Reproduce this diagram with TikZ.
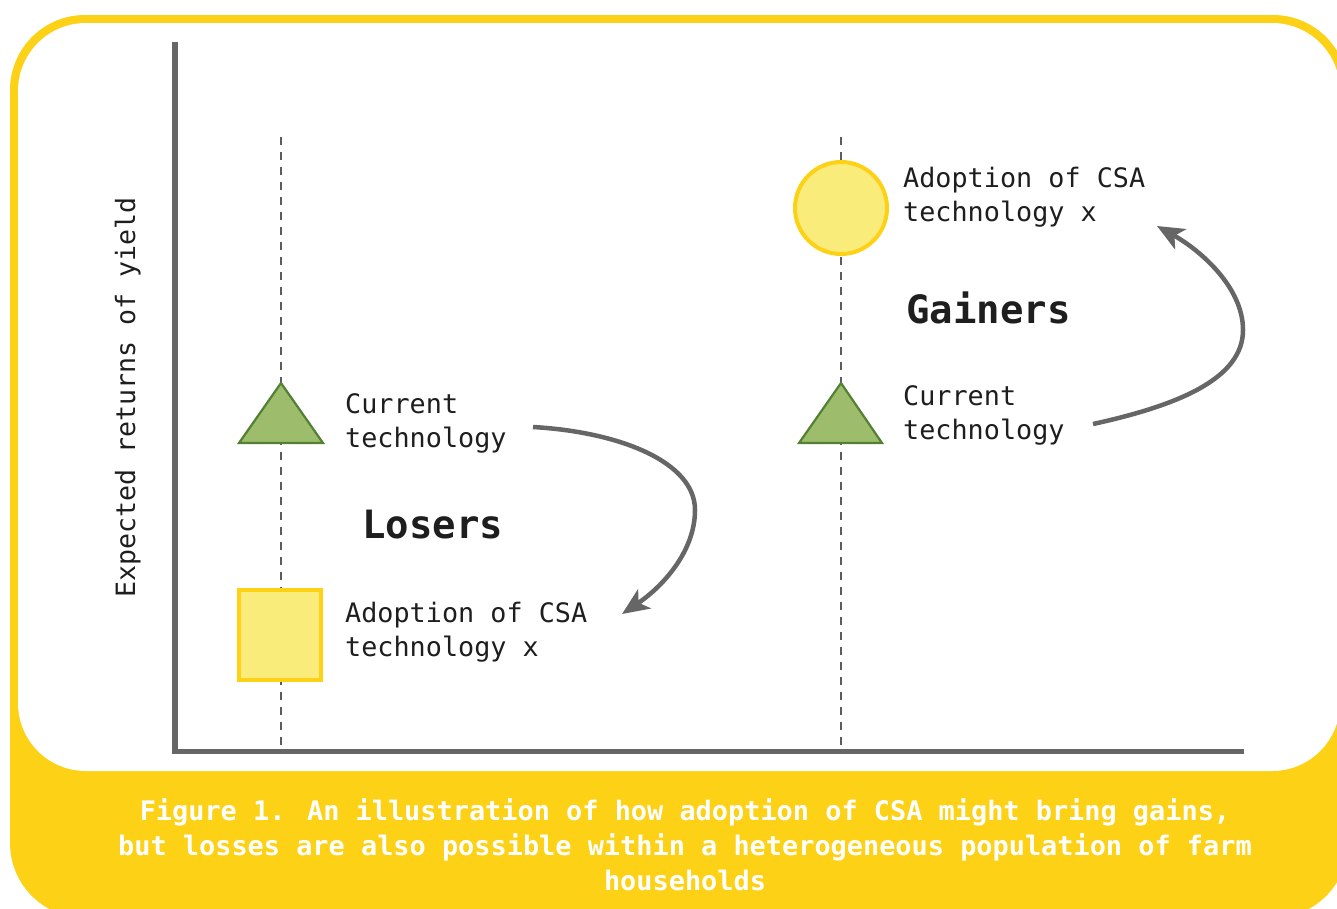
\documentclass[tikz,border=0pt]{standalone}
\usepackage{fontspec}
\newfontfamily\monofont{DejaVu Sans Mono}
\usetikzlibrary{arrows.meta}
\definecolor{csayellow}{RGB}{252,209,22}
\definecolor{lightyellow}{RGB}{249,236,123}
\definecolor{leafgreen}{RGB}{157,188,108}
\definecolor{darkgreen}{RGB}{84,128,52}
\definecolor{axisgray}{RGB}{102,102,102}
\definecolor{inkblack}{RGB}{30,30,30}
\tikzset{
  bodytext/.style={inner sep=0pt, anchor=base west, text=inkblack, font=\monofont\fontsize{26.8}{34}\selectfont},
  bigtext/.style={inner sep=0pt, anchor=base west, text=inkblack, font=\monofont\bfseries\fontsize{39}{46}\selectfont},
  captext/.style={inner sep=0pt, anchor=base, text=white, font=\monofont\bfseries\fontsize{26.9}{35}\selectfont},
  guideline/.style={draw=axisgray!90!black, line width=2pt, dash pattern=on 8pt off 7pt},
  trishape/.style={fill=leafgreen, draw=darkgreen, line width=2.2pt, line join=miter},
  yellowshape/.style={fill=lightyellow, draw=csayellow, line width=4pt},
  curvearrow/.style={draw=axisgray, line width=4.5pt, -{Stealth[length=27pt,width=23pt,inset=7pt]}}
}
\begin{document}
\begin{tikzpicture}[x=1pt,y=-1pt]
\useasboundingbox (0,0) rectangle (1337,908);
% frame
\fill[white] (0,0) rectangle (1337,908);
\fill[csayellow, rounded corners=75pt] (10,15) rectangle (1348,918);
\fill[white, rounded corners=68pt] (18,23) rectangle (1340,771);
% guides
\draw[guideline] (281,137) -- (281,751);
\draw[guideline] (841,137) -- (841,751);
% axes
\draw[axisgray, line width=5.5pt, line cap=butt, line join=miter] (175,42) -- (175,751.5) -- (1244,751.5);
% y label
\node[inner sep=0pt, anchor=base, rotate=90, text=inkblack, font=\monofont\fontsize{26.6}{34}\selectfont] (ylab) at (135,397.5) {Expected returns of yield};
% left column
\draw[trishape] (281,383) -- (323,443) -- (239,443) -- cycle;
\draw[yellowshape] (239,590) rectangle (321,680);
\node[bodytext] (lc1) at (345,413) {Current};
\node[bodytext] (lc2) at (345,447) {technology};
\node[bodytext] (la1) at (345,622) {Adoption of CSA};
\node[bodytext] (la2) at (345,656) {technology x};
\node[bigtext] (losers) at (362,538) {Losers};
% right column
\draw[trishape] (841,383) -- (882,443) -- (799,443) -- cycle;
\draw[yellowshape] (841,208) circle (46);
\node[bodytext] (rc1) at (903,405) {Current};
\node[bodytext] (rc2) at (903,439) {technology};
\node[bodytext] (ra1) at (903,187) {Adoption of CSA};
\node[bodytext] (ra2) at (903,221) {technology x};
\node[bigtext] (gainers) at (906,323) {Gainers};
% arrows
\coordinate (l1s) at (533,427);
\coordinate (l1e) at (622,614);
\coordinate (r1s) at (1093,424);
\coordinate (r1e) at (1157,226);
\draw[curvearrow] (l1s) .. controls (620,432) and (695,462) .. (695,510) .. controls (695,552) and (662,587) .. (l1e);
\draw[curvearrow] (r1s) .. controls (1180,405) and (1243,378) .. (1243,330) .. controls (1243,287) and (1200,250) .. (r1e);
% caption
\node[captext] (cap1) at (685,820) {Figure 1. An illustration of how adoption of CSA might bring gains,};
\node[captext] (cap2) at (685,855) {but losses are also possible within a heterogeneous population of farm};
\node[captext] (cap3) at (685,890) {households};
\end{tikzpicture}
\end{document}
